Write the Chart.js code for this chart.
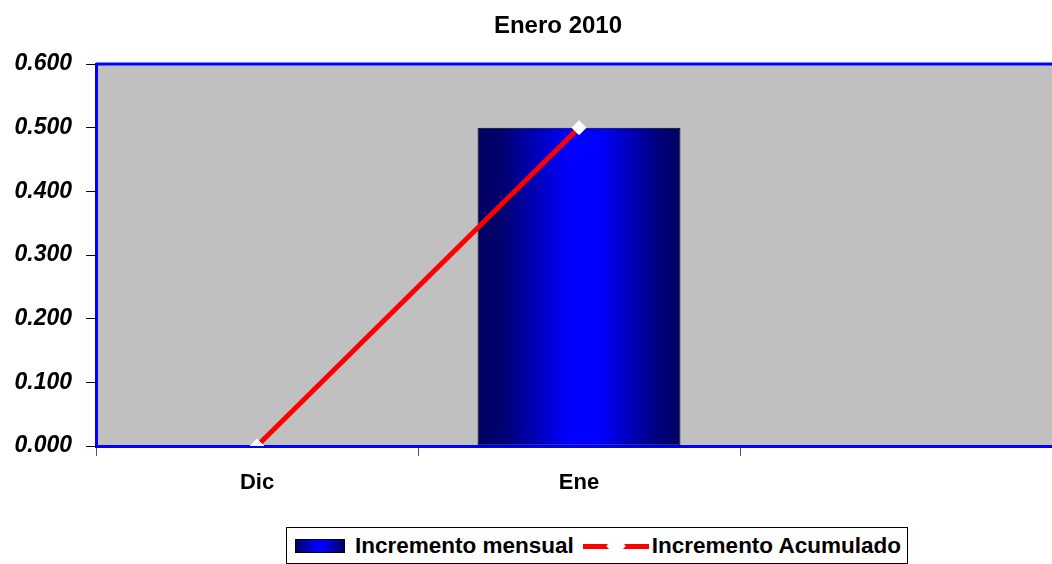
<!DOCTYPE html>
<html>
<head>
<meta charset="utf-8">
<script src="https://cdn.jsdelivr.net/npm/chart.js@4.4.1/dist/chart.umd.min.js"></script>
<style>
  body { margin: 0; overflow: hidden; background: #fff; font-family: "Liberation Sans", Arial, sans-serif; }
  .wrap { position: relative; width: 1052px; height: 564px; overflow: hidden; }
  #grafico { position: absolute; left: 0; top: 0; }
  .titulo {
    position: absolute; left: 408px; top: 11px; width: 300px; text-align: center;
    font-weight: bold; font-size: 24px; color: #000; line-height: 28px;
  }
  .legenda {
    position: absolute; left: 286px; top: 527px; width: 620px; height: 35px;
    border: 1px solid #000; background: #fff;
    display: flex; align-items: center; font-weight: bold; font-size: 22.5px; color: #000;
    white-space: nowrap;
  }
  .caja {
    width: 48px; height: 12px; margin-left: 8px; margin-right: 10px; border: 1px solid #000;
    background: linear-gradient(to right, #000060, #0000ff 45%, #0000ff 55%, #000060);
  }
  .linea { position: relative; width: 66px; height: 22px; margin: 0 3px 0 9px; }
  .linea .rojo { position: absolute; left: 0; top: 9px; width: 66px; height: 5px; background: #ff0000; }
  .linea .rombo {
    position: absolute; left: 26px; top: 4px; width: 14px; height: 14px;
    background: #fff; transform: rotate(45deg);
  }
</style>
</head>
<body>
<div class="wrap">
  <canvas id="grafico" width="1120" height="564"></canvas>
  <div class="titulo" id="titulo"></div>
  <div class="legenda">
    <div class="caja"></div><span>Incremento mensual</span>
    <div class="linea"><div class="rojo"></div><div class="rombo"></div></div><span>Incremento Acumulado</span>
  </div>
</div>
<script>
// datos
const meses = ['Dic', 'Ene', ''];
const incrementoMensual = [null, 0.5, null];
const incrementoAcumulado = [0, 0.5, null];
const titulo = 'Enero 2010';

const fuente = '"Liberation Sans", Arial, sans-serif';

document.getElementById('titulo').textContent = titulo;

// fondo gris y linea azul arriba del area del grafico
const fondoPlugin = {
  id: 'fondo',
  beforeDraw(chart) {
    const a = chart.chartArea;
    const ctx = chart.ctx;
    ctx.save();
    ctx.fillStyle = '#c0c0c0';
    ctx.fillRect(a.left, a.top, a.right - a.left, a.bottom - a.top);
    ctx.strokeStyle = '#0000ff';
    ctx.lineWidth = 3;
    ctx.beginPath();
    ctx.moveTo(a.left, a.top);
    ctx.lineTo(a.right, a.top);
    ctx.stroke();
    ctx.restore();
  }
};

// degradado azul de la barra
function colorBarra(context) {
  const chart = context.chart;
  const x = chart.scales.x;
  if (!x || !chart.chartArea) return '#0000ff';
  const centro = x.getPixelForValue(context.dataIndex);
  const ancho = (x.width / meses.length) * 0.63;
  const g = chart.ctx.createLinearGradient(centro - ancho / 2, 0, centro + ancho / 2, 0);
  g.addColorStop(0, '#000060');
  g.addColorStop(0.12, '#000070');
  g.addColorStop(0.45, '#0000ff');
  g.addColorStop(0.6, '#0000ff');
  g.addColorStop(0.88, '#000080');
  g.addColorStop(1, '#000060');
  return g;
}

new Chart(document.getElementById('grafico'), {
  type: 'bar',
  data: {
    labels: meses,
    datasets: [{
      type: 'bar',
      label: 'Incremento mensual',
      data: incrementoMensual,
      backgroundColor: colorBarra,
      borderColor: '#000',
      borderWidth: 1,
      borderSkipped: false,
      categoryPercentage: 1,
      barPercentage: 0.63,
      order: 2
    }, {
      type: 'line',
      label: 'Incremento Acumulado',
      data: incrementoAcumulado,
      borderColor: '#ff0000',
      borderWidth: 5,
      pointStyle: 'rectRot',
      pointRadius: 7,
      pointBackgroundColor: '#fff',
      pointBorderColor: '#fff',
      pointBorderWidth: 1,
      spanGaps: false,
      order: 1
    }]
  },
  options: {
    responsive: false,
    devicePixelRatio: 1,
    animation: false,
    layout: { padding: { left: 0, right: 58, top: 64, bottom: 0 } },
    plugins: {
      legend: { display: false },
      tooltip: { enabled: false },
      title: { display: false }
    },
    scales: {
      x: {
        offset: true,
        grid: { offset: true, drawOnChartArea: false, drawTicks: true, tickLength: 10, color: '#555' },
        border: { color: '#0000ff', width: 3 },
        ticks: { color: '#000', font: { family: fuente, size: 22, weight: 'bold' }, padding: 14 },
        afterFit(scale) { scale.height = 118; }
      },
      y: {
        min: 0,
        max: 0.6,
        ticks: {
          stepSize: 0.1,
          color: '#000',
          font: { family: fuente, size: 23, weight: 'bold', style: 'italic' },
          padding: 14,
          callback: (v) => v.toFixed(3)
        },
        grid: { drawOnChartArea: false, drawTicks: true, tickLength: 10, color: '#000' },
        border: { color: '#0000ff', width: 3 },
        afterFit(scale) { scale.width = 96; }
      }
    }
  },
  plugins: [fondoPlugin]
});
</script>
</body>
</html>
